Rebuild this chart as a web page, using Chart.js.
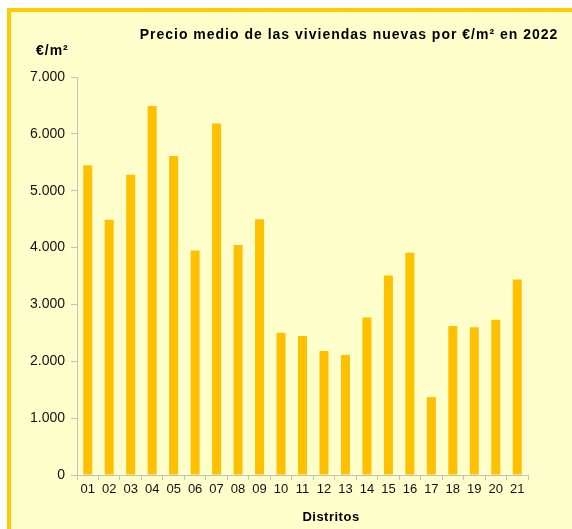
<!DOCTYPE html>
<html lang="es">

<head>
    <meta charset="UTF-8">
    <script src="https://cdn.jsdelivr.net/npm/chart.js"></script>
    <title>precio vivienda nueva</title>
    <style>
        body { margin: 0; background: #ffffff; overflow: hidden; }
        .marco {
            position: absolute; left: 7px; top: 8px;
            width: 620px; height: 600px;
            border: 4px solid #ffcc00; background: #ffffcc;
        }
        #grafico { position: absolute; left: 0; top: 0; }
    </style>
</head>

<body>
    <div class="marco"></div>
    <canvas id="grafico" width="572" height="529"></canvas>

<script>
    // datos
    const distritos = ['01', '02', '03', '04', '05', '06', '07', '08', '09', '10', '11',
        '12', '13', '14', '15', '16', '17', '18', '19', '20', '21'];
    const precios = [5450, 4490, 5280, 6490, 5610, 3950, 6180, 4045, 4500, 2500, 2445,
        2180, 2110, 2770, 3510, 3910, 1370, 2620, 2600, 2730, 3440];
    const ticksY = [0, 1000, 2000, 3000, 4000, 5000, 6000, 7000];

    const titulo = 'Precio medio de las viviendas nuevas por €/m² en 2022';
    const unidad = '€/m²';
    const tituloX = 'Distritos';

    function formatoMiles(v) {
        return String(v).replace(/\B(?=(\d{3})+(?!\d))/g, '.');
    }

    // textos que no encajan en el layout normal de chart.js
    const textos = {
        id: 'textos',
        afterDraw(chart) {
            const ctx = chart.ctx;
            ctx.save();
            ctx.fillStyle = '#000000';
            ctx.textBaseline = 'middle';
            ctx.font = 'bold 14px "Liberation Sans", Arial, sans-serif';
            ctx.letterSpacing = '1px';
            ctx.textAlign = 'center';
            ctx.fillText(titulo, 349, 35);
            ctx.textAlign = 'left';
            ctx.fillText(unidad, 36, 51);
            ctx.font = 'bold 13px "Liberation Sans", Arial, sans-serif';
            ctx.letterSpacing = '0.5px';
            ctx.textAlign = 'center';
            ctx.fillText(tituloX, 331, 517);
            ctx.restore();
        }
    };

    const ctx = document.getElementById('grafico').getContext('2d');
    const grafico = new Chart(ctx, {
        type: 'bar',
        data: {
            labels: distritos,
            datasets: [{
                data: precios,
                backgroundColor: '#ffc000',
                borderWidth: 0,
                categoryPercentage: 1,
                barPercentage: 0.42
            }]
        },
        options: {
            responsive: false,
            animation: false,
            layout: { padding: { left: 20, right: 44, top: 77, bottom: 24 } },
            plugins: {
                legend: { display: false },
                tooltip: { enabled: false }
            },
            scales: {
                x: {
                    afterFit: function (s) { s.height = 30; },
                    border: { color: '#c0c0c0', width: 1 },
                    grid: { drawOnChartArea: false, drawTicks: true, tickLength: 5, color: '#c0c0c0', offset: true },
                    ticks: {
                        color: '#111111', padding: 2,
                        font: { family: '"Liberation Sans", Arial, sans-serif', size: 13 }
                    }
                },
                y: {
                    min: 0,
                    max: 7000,
                    afterFit: function (s) { s.width = 57; },
                    afterBuildTicks: function (s) { s.ticks = ticksY.map(v => ({ value: v })); },
                    border: { color: '#c0c0c0', width: 1 },
                    grid: { drawOnChartArea: false, drawTicks: true, tickLength: 6, color: '#c0c0c0' },
                    ticks: {
                        color: '#111111', padding: 6,
                        font: { family: '"Liberation Sans", Arial, sans-serif', size: 14 },
                        callback: function (v) { return formatoMiles(v); }
                    }
                }
            }
        },
        plugins: [textos]
    });
</script>
</body>

</html>
